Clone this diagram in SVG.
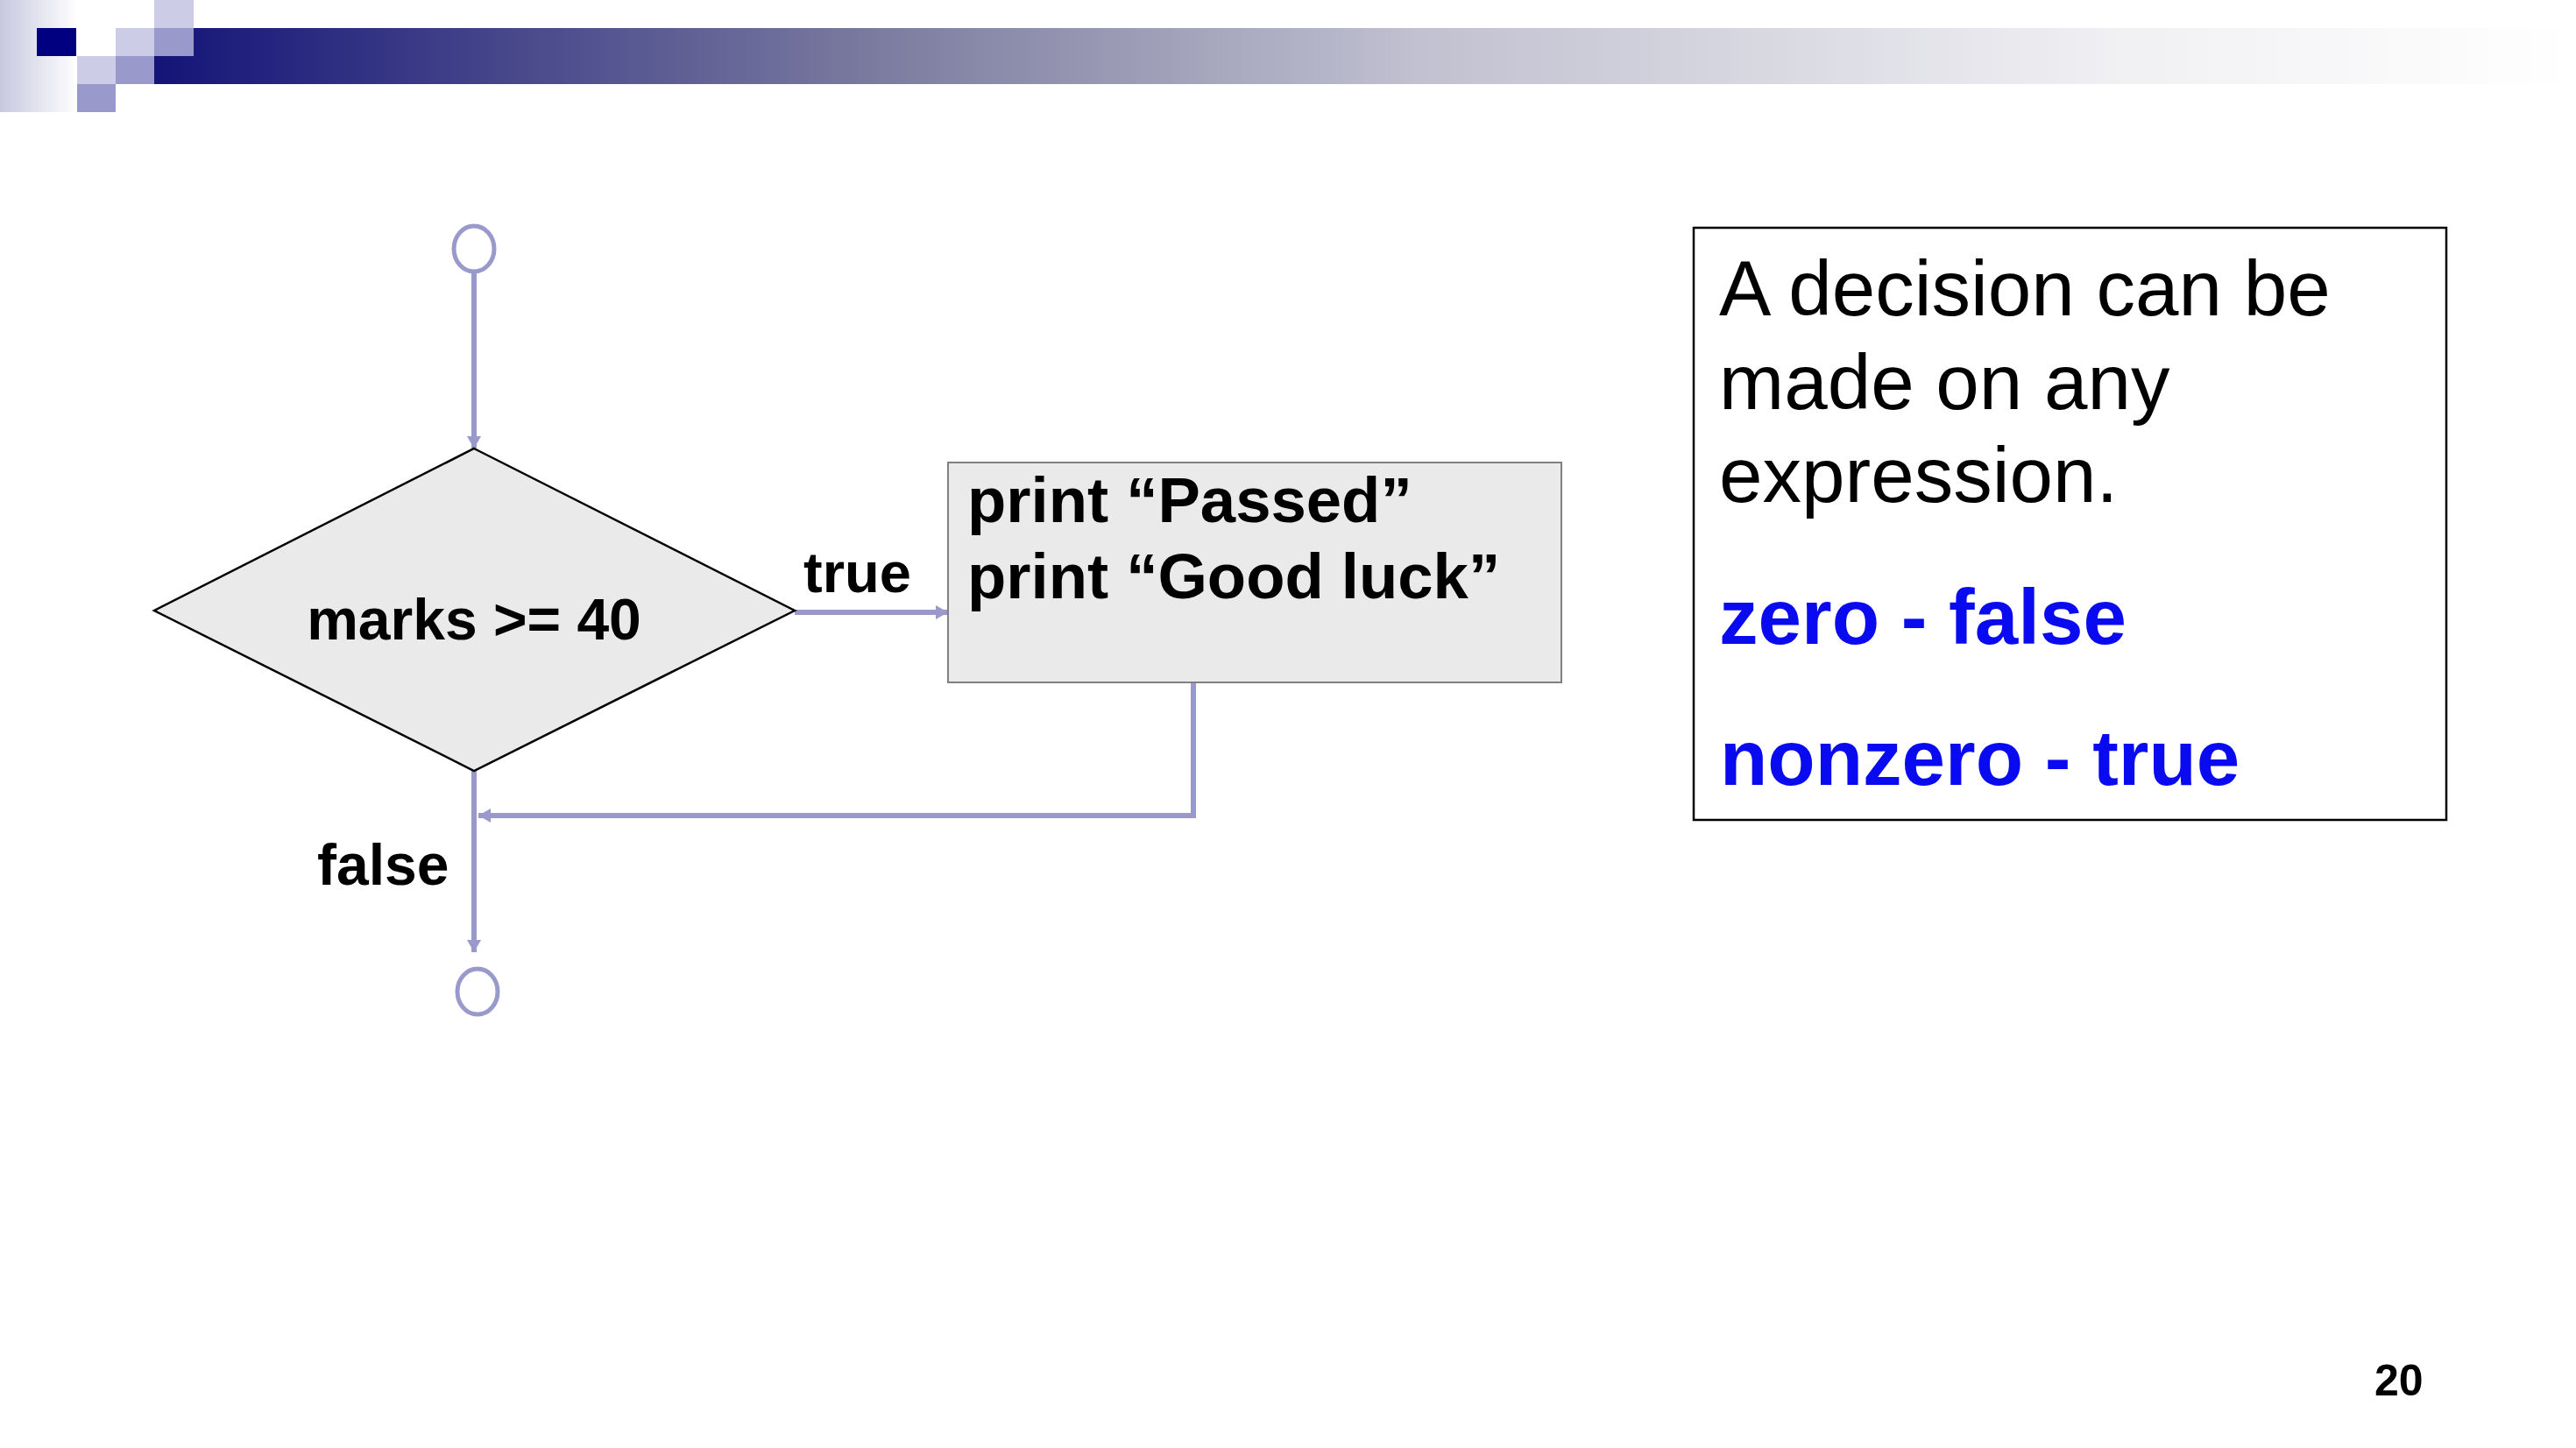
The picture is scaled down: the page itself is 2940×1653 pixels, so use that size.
<svg xmlns="http://www.w3.org/2000/svg" width="2940" height="1653" viewBox="0 0 2940 1653">
<style>
.b{font-family:"Liberation Sans",Arial,sans-serif;font-weight:bold;fill:#000}
.r{font-family:"Liberation Sans",Arial,sans-serif;fill:#000}
.blue{font-family:"Liberation Sans",Arial,sans-serif;font-weight:bold;fill:#0a0af0}
.conn{stroke:#9999cc;stroke-width:6;fill:none}
.term{stroke:#9999cc;stroke-width:5;fill:#fff}
.lt{fill:#ccccE6}
.md{fill:#9999cc}
</style>
<defs>
<linearGradient id="bar" x1="176" y1="0" x2="2940" y2="0" gradientUnits="userSpaceOnUse">
<stop offset="0" stop-color="#141478"/>
<stop offset="0.30" stop-color="#7c7ca0"/>
<stop offset="0.52" stop-color="#c0c0d0"/>
<stop offset="0.81" stop-color="#f0f0f3"/>
<stop offset="1" stop-color="#ffffff"/>
</linearGradient>
<linearGradient id="strip" x1="0" y1="0" x2="1" y2="0">
<stop offset="0" stop-color="#c8c8e0"/>
<stop offset="1" stop-color="#ffffff"/>
</linearGradient>
<marker id="ah" markerUnits="userSpaceOnUse" markerWidth="15" markerHeight="17" refX="14" refY="8" orient="auto">
<path d="M0,0 L14,8 L0,16 z" fill="#9999cc"/>
</marker>
</defs>
<rect width="2940" height="1653" fill="#fff"/>
<g id="header">
<rect x="0" y="0" width="88" height="128" fill="url(#strip)"/>
<rect x="176" y="64" width="2764" height="32" fill="url(#bar)"/>
<rect x="221" y="32" width="2719" height="32" fill="url(#bar)"/>
<rect x="42" y="32" width="45" height="32" fill="#000080"/>
<rect class="lt" x="132" y="32" width="44" height="32"/>
<rect class="lt" x="176" y="0" width="45" height="32"/>
<rect class="md" x="176" y="32" width="45" height="32"/>
<rect class="lt" x="88" y="64" width="44" height="32"/>
<rect class="md" x="132" y="64" width="44" height="32"/>
<rect class="md" x="88" y="96" width="44" height="32"/>
</g>
<g id="connectors">
<line class="conn" x1="541" y1="312" x2="541" y2="512" marker-end="url(#ah)"/>
<line class="conn" x1="907" y1="699" x2="1082" y2="699" marker-end="url(#ah)"/>
<polyline class="conn" points="1362,780 1362,931 546,931" marker-end="url(#ah)"/>
<line class="conn" x1="541" y1="880" x2="541" y2="1087" marker-end="url(#ah)"/>
</g>
<g id="start"><ellipse class="term" cx="541" cy="284" rx="23" ry="26"/></g>
<g id="end"><ellipse class="term" cx="545" cy="1132" rx="23" ry="26"/></g>
<g id="decision">
<polygon points="541,512 907,697 541,880 176,697" fill="#eaeaea" stroke="#000" stroke-width="2.5"/>
<text class="b" x="541" y="730" font-size="66" text-anchor="middle">marks &gt;= 40</text>
</g>
<g id="labels">
<text class="b" x="917" y="676" font-size="65">true</text>
<text class="b" x="362" y="1010" font-size="66">false</text>
</g>
<g id="action">
<rect x="1082" y="528" width="700" height="251" fill="#eaeaea" stroke="#808080" stroke-width="2"/>
<text class="b" x="1104" y="596" font-size="72.5">print “Passed”</text>
<text class="b" x="1104" y="683" font-size="72.5">print “Good luck”</text>
</g>
<g id="note">
<rect x="1933" y="260" width="859" height="676" fill="#fff" stroke="#000" stroke-width="2.5"/>
<text class="r" x="1962" y="360" font-size="89">A decision can be</text>
<text class="r" x="1962" y="467" font-size="89">made on any</text>
<text class="r" x="1962" y="573" font-size="89">expression.</text>
<text class="blue" x="1962" y="735" font-size="89">zero - false</text>
<text class="blue" x="1963" y="896" font-size="89">nonzero - true</text>
</g>
<text class="b" x="2710" y="1593" font-size="50">20</text>
</svg>
